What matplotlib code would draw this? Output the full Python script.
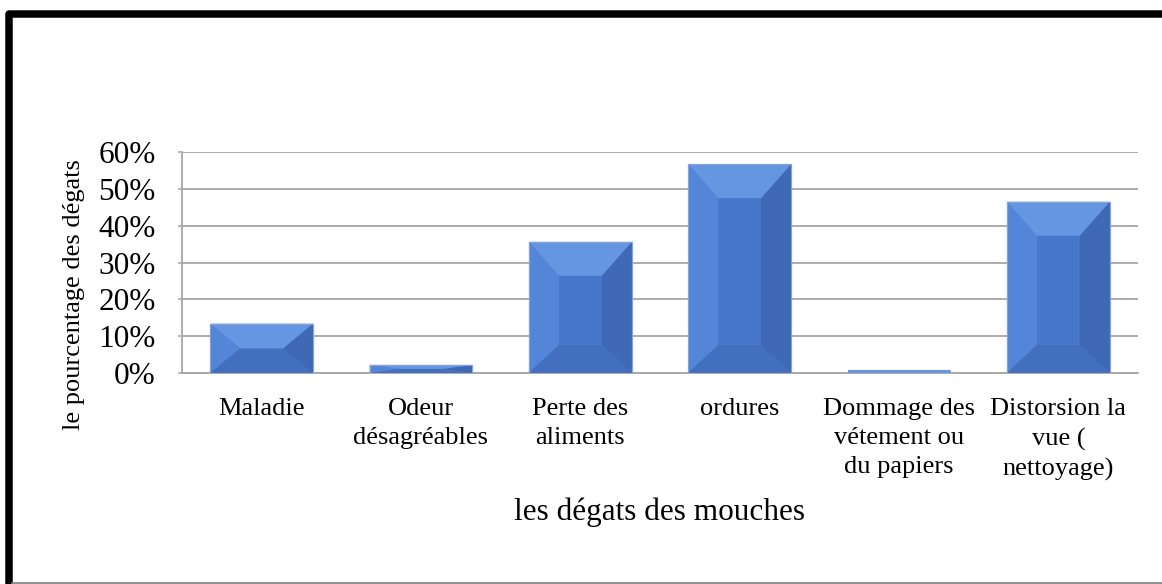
import numpy as np
import matplotlib
matplotlib.use('Agg')
from matplotlib import pyplot as plt
from matplotlib.patches import Polygon
from matplotlib.lines import Line2D
from matplotlib.ticker import PercentFormatter

# data
categories = ['Maladie', 'Odeur\ndésagréables', 'Perte des\naliments', 'ordures',
              'Dommage des\nvétement ou\ndu papiers', 'Distorsion la\nvue (\nnettoyage)']
values = [0.134, 0.022, 0.356, 0.567, 0.007, 0.465]
yticks = [0, 0.1, 0.2, 0.3, 0.4, 0.5, 0.6]

plt.rcParams['font.family'] = ['Liberation Serif', 'DejaVu Serif']

W, H = 1162, 584
fig = plt.figure(figsize=(W / 100, H / 100), dpi=100)
ax_left, ax_right, ax_top, ax_bottom = 182, 1138, 152, 373
ax = fig.add_axes([ax_left / W, (H - ax_bottom) / H,
                   (ax_right - ax_left) / W, (ax_bottom - ax_top) / H])

x = np.arange(len(categories))
bar_w = 0.645
face = '#4777CB'
bars = ax.bar(x, values, width=bar_w, color=face, edgecolor='#86A3D8',
              linewidth=0.8, zorder=3)

ax.set_xlim(-0.5, len(categories) - 0.5)
ax.set_ylim(0, 0.6)
ax.set_yticks(yticks)
ax.yaxis.set_major_formatter(PercentFormatter(1.0, decimals=0))
ax.set_xticks(x)
ax.set_xticklabels(categories, fontsize=19, linespacing=1.42)
ax.tick_params(axis='x', length=0, pad=18)
ax.tick_params(axis='y', length=3, width=1.1, color='#A6A6A6', labelsize=22.5, pad=16)
ax.grid(axis='y', color='#A6A6A6', linewidth=1.3, zorder=0)
ax.set_axisbelow(True)
for s in ['top', 'right']:
    ax.spines[s].set_visible(False)
for s in ['left', 'bottom']:
    ax.spines[s].set_color('#A6A6A6')
    ax.spines[s].set_linewidth(1.3)

# bevel effect on each bar
px_x = (ax_right - ax_left) / (len(categories))
px_y = (ax_bottom - ax_top) / 0.6
depth_x, depth_top, depth_bot = 30, 34, 28
for b in bars:
    x0, y0 = b.get_x(), b.get_y()
    x1, y1 = x0 + b.get_width(), y0 + b.get_height()
    h = b.get_height()
    if h * px_y < 6:
        ax.add_patch(Polygon([(x0, y1 - 2.5 / px_y), (x1, y1 - 2.5 / px_y), (x1, y1), (x0, y1)],
                             closed=True, facecolor='#6596E2', edgecolor='none', zorder=3.5))
        continue
    dx = min(depth_x, b.get_width() * px_x / 2) / px_x
    dt = min(depth_top, h * px_y / 2) / px_y
    db = min(depth_bot, h * px_y / 2) / px_y
    ix0, ix1, iy0, iy1 = x0 + dx, x1 - dx, y0 + db, y1 - dt
    faces = [
        ([(x0, y0), (ix0, iy0), (ix0, iy1), (x0, y1)], '#5385D8'),
        ([(x1, y0), (ix1, iy0), (ix1, iy1), (x1, y1)], '#3F69B5'),
        ([(x0, y0), (x1, y0), (ix1, iy0), (ix0, iy0)], '#4270BF'),
        ([(x0, y1), (x1, y1), (ix1, iy1), (ix0, iy1)], '#6596E2'),
    ]
    for pts, c in faces:
        ax.add_patch(Polygon(pts, closed=True, facecolor=c, edgecolor='none', zorder=3.5))
    ax.add_patch(Polygon([(x0, y0), (x1, y0), (x1, y1), (x0, y1)], closed=True,
                         facecolor='none', edgecolor='#86A3D8', linewidth=0.8, zorder=4))

ax.set_xlabel('les dégats des mouches', fontsize=22.5)
ax.xaxis.set_label_coords(0.5, (ax_bottom - 512) / (ax_bottom - ax_top))
ax.xaxis.label.set_va('center')
fig.text(74 / W, (H - 295) / H, 'le pourcentage des dégats', rotation=90,
         fontsize=19, ha='center', va='center')

# frame around the chart
fig.add_artist(Line2D([8.75 / W, 8.75 / W, 1.0], [0.0, (H - 13.5) / H, (H - 13.5) / H],
                      transform=fig.transFigure, color='black', linewidth=5.4,
                      solid_joinstyle='round'))
fig.add_artist(Line2D([12 / W, 1.0], [1.5 / H, 1.5 / H], transform=fig.transFigure,
                      color='#7F7F7F', linewidth=1.2))

plt.savefig('out.png', dpi=100)
